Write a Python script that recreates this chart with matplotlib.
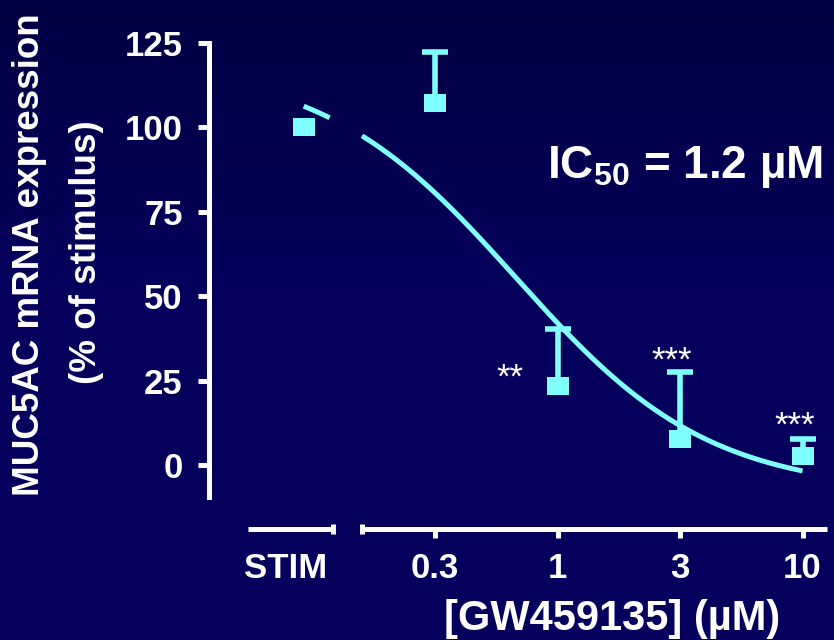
import numpy as np
import matplotlib
matplotlib.use("Agg")
import matplotlib.pyplot as plt

# concentrations on log10 scale; STIM = stimulus alone
x_labels = ["STIM", "0.3", "1", "3", "10"]
x_log = [-0.5, 0.0, 0.5, 1.0]
stim_mean = 100.0
means = [107.3, 23.5, 7.6, 2.8]
sem = [15.0, 16.8, 19.9, 4.8]
stars = ["**", "***", "***"]

# fitted sigmoid
fit_top = 119.0
fit_bottom = -8.0
fit_logx50 = -0.17
fit_hill = 1.1

plt.rcParams['font.family'] = ['Liberation Sans', 'DejaVu Sans']
plt.rcParams['mathtext.fontset'] = 'custom'
plt.rcParams['mathtext.rm'] = 'Liberation Sans:bold'
plt.rcParams['mathtext.bf'] = 'Liberation Sans:bold'
plt.rcParams['mathtext.it'] = 'Liberation Sans:bold'
plt.rcParams['mathtext.default'] = 'bf'

cyan = '#80ffff'
white = 'white'
lw = 3.6

fig = plt.figure(figsize=(8.34, 6.4), dpi=100)

# background gradient
bg = fig.add_axes([0, 0, 1, 1], zorder=-10)
top_c = np.array([2, 0, 66]) / 255
bot_c = np.array([4, 0, 92]) / 255
t = np.clip(np.linspace(0, 1, 256) / 0.45, 0, 1)[:, None]
grad = top_c[None, :] * (1 - t) + bot_c[None, :] * t
bg.imshow(grad[:, None, :], aspect='auto', extent=[0, 1, 0, 1])
bg.axis('off')

ax = fig.add_axes([0.2425, 0.1416, 0.755, 0.8177])
ax.set_facecolor('none')
ax.set_xlim(-1.45, 1.12)
ax.set_ylim(-25, 130)

stim_x = -1.036
y_axis_x = -1.422
x_axis_y = -18.96

for s in ['top', 'right', 'bottom']:
    ax.spines[s].set_visible(False)
ax.spines['left'].set_position(('data', y_axis_x))
ax.spines['left'].set_bounds(-9.5, 125)
ax.spines['left'].set_linewidth(lw)
ax.spines['left'].set_color(white)
ax.set_yticks([0, 25, 50, 75, 100, 125])
ax.tick_params(axis='y', direction='out', length=8, width=lw, colors=white,
               labelsize=25, pad=11)
for lab in ax.get_yticklabels():
    lab.set_fontweight('bold')
ax.set_xticks([])

# broken x axis drawn by hand
ax.plot([-1.263, -0.916], [x_axis_y, x_axis_y], color=white, lw=lw,
        solid_capstyle='butt', clip_on=False)
ax.plot([-0.806, 1.10], [x_axis_y, x_axis_y], color=white, lw=lw,
        solid_capstyle='butt', clip_on=False)
for xe in [-0.916, -0.798]:
    ax.plot([xe, xe], [x_axis_y - 1.6, x_axis_y + 1.6], color=white, lw=lw,
            solid_capstyle='butt', clip_on=False)
for xt in x_log:
    ax.plot([xt, xt], [x_axis_y, x_axis_y - 2.7], color=white, lw=lw,
            solid_capstyle='butt', clip_on=False)

label_x = [-1.108] + x_log
for xl, txt in zip(label_x, x_labels):
    ax.text(xl, -33.5, txt, ha='center', va='baseline', color=white,
            fontsize=25, fontweight='bold', clip_on=False)
ax.text(0.2245, -48.9, "[GW459135] (\u00b5M)", ha='center', va='baseline',
        color=white, fontsize=30, fontweight='bold', clip_on=False)

# fitted curve, hidden across the axis break
def sigmoid(x):
    return fit_bottom + (fit_top - fit_bottom) / (1 + 10 ** ((x - fit_logx50) * fit_hill))

xs1 = np.linspace(stim_x, -0.93, 20)
xs2 = np.linspace(-0.798, 1.0, 200)
ax.plot(xs1, sigmoid(xs1), color=cyan, lw=lw, solid_capstyle='butt', zorder=3)
ax.plot(xs2, sigmoid(xs2), color=cyan, lw=lw, solid_capstyle='butt', zorder=3)

# data with upper error bars only
rect = [(-11, -9), (11, -9), (11, 9), (-11, 9), (-11, -9)]
eb = ax.errorbar(x_log, means, yerr=[np.zeros(len(sem)), sem], fmt='none',
                 ecolor=cyan, elinewidth=4, capsize=9.7, capthick=4, zorder=4)
eb[1][0].set_visible(False)  # drop the lower cap
ax.plot(x_log, means, linestyle='none', marker=rect, markersize=15.8,
        color=cyan, markeredgewidth=0, zorder=5)
ax.plot([stim_x], [stim_mean], linestyle='none', marker=rect, markersize=15.8,
        color=cyan, markeredgewidth=0, zorder=5)

star_pos = [(-0.194, 22.8), (0.467, 27.8), (0.969, 8.6)]
for (sx, sy), s in zip(star_pos, stars):
    ax.text(sx, sy, s, ha='center', va='baseline', color=white, fontsize=25)

fig.text(547 / 834, 1 - 178 / 640, "IC$_{50}$ = 1.2 \u00b5M", ha='left',
         va='baseline', color=white, fontsize=33, fontweight='bold')

fig.text(30 / 834, 1 - 255 / 640, "MUC5AC mRNA expression", rotation=90,
         ha='center', va='center', color=white, fontsize=26.5, fontweight='bold')
fig.text(87 / 834, 1 - 252 / 640, "(% of stimulus)", rotation=90,
         ha='center', va='center', color=white, fontsize=26.5, fontweight='bold')

fig.savefig("out.png", dpi=100, facecolor=fig.get_facecolor())
